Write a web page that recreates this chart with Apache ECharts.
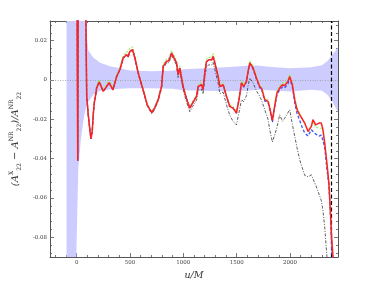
<!DOCTYPE html>
<html><head><meta charset="utf-8">
<script src="https://cdn.jsdelivr.net/npm/echarts@6/dist/echarts.min.js"></script>
<style>html,body{margin:0;padding:0;background:#fff}#c{width:374px;height:289px}</style>
</head><body><div id="c"></div>
<script>
// ---- data ----
const uGrid = [0,10,16,84,94,109,125,134,146,155,165,181,187,212,249,265,305,340,375,405,436,468,483,499,524,546,577,609,640,661,686,705,733,764,796,811,843,864,890,905,936,951,967,998,1023,1042,1061,1089,1124,1139,1170,1185,1201,1217,1239,1267,1279,1295,1326,1342,1373,1404,1435,1466,1498,1522,1545,1566,1592,1607,1623,1654,1685,1716,1735,1763,1794,1810,1835,1856,1878,1903,1929,1950,1981,1997,2022,2044,2066,2091,2114,2138,2169,2200,2215,2241,2272,2294,2309,2325,2346,2365,2378,2390,2403,2410];
const redVals = [0.1,-0.041,0.1,0.045,-0.008,-0.018,-0.026,-0.030,-0.026,-0.018,-0.0117,-0.0066,-0.004,-0.001,-0.0058,-0.006,-0.0014,-0.005,0.0018,0.0052,0.0112,0.0129,0.0118,0.0146,0.0154,0.0112,0.0036,-0.0024,-0.0083,-0.0126,-0.015,-0.0166,-0.014,-0.010,-0.0033,0.0069,0.0095,0.0098,0.0137,0.0129,0.0087,0.0027,0.0061,-0.0033,-0.0083,-0.0115,-0.0143,-0.0115,-0.0083,-0.0033,-0.0024,-0.0049,0.0036,0.0093,0.0103,0.0103,0.012,0.0087,0.0018,-0.0033,-0.0024,-0.0083,-0.0134,-0.0143,-0.0168,-0.010,-0.0015,-0.0033,-0.0007,0.0044,0.0087,0.0061,0.001,-0.0033,-0.0044,-0.010,-0.0109,-0.0143,-0.0207,-0.0134,-0.0066,-0.0041,-0.0024,-0.0029,-0.0007,0.0018,-0.0024,-0.010,-0.0151,-0.0177,-0.0197,-0.0219,-0.0262,-0.0236,-0.0202,-0.0228,-0.0219,-0.0219,-0.0253,-0.032,-0.0422,-0.0524,-0.066,-0.0796,-0.0898,-0.097];
const greenVals = [0.1,-0.041,0.1,0.045,-0.007,-0.017,-0.025,-0.029,-0.025,-0.017,-0.0107,-0.0056,-0.003,0.0003,-0.005,-0.0052,0.0,-0.0042,0.003,0.0064,0.0125,0.014,0.013,0.016,0.0168,0.0122,0.0045,-0.0016,-0.0076,-0.012,-0.0144,-0.016,-0.0133,-0.0092,-0.0024,0.008,0.0108,0.011,0.015,0.0142,0.0098,0.0038,0.0073,-0.0024,-0.0076,-0.0108,-0.0136,-0.0108,-0.0075,-0.0022,-0.0013,-0.004,0.0048,0.0105,0.0115,0.0115,0.0135,0.0098,0.003,-0.0024,-0.0013,-0.0074,-0.0126,-0.0135,-0.016,-0.0091,-0.0004,-0.0022,0.0004,0.0055,0.0098,0.0072,0.002,-0.0024,-0.0035,-0.009,-0.0099,-0.0134,-0.0198,-0.0125,-0.0055,-0.003,-0.0013,-0.0019,0.0004,0.003,-0.0015,-0.009,-0.0142,-0.0168,-0.0195,-0.022,-0.026,-0.0236,-0.0215,-0.024,-0.0245,-0.0245,-0.026,-0.033,-0.044,-0.054,-0.068,-0.083,-0.095,-0.102];
const blueVals = [0.1,-0.041,0.1,0.045,-0.008,-0.018,-0.026,-0.030,-0.026,-0.018,-0.0117,-0.0066,-0.004,-0.001,-0.0058,-0.006,-0.0014,-0.005,0.0018,0.0052,0.0112,0.0129,0.0118,0.0146,0.0154,0.0112,0.0036,-0.0024,-0.0083,-0.0126,-0.015,-0.0166,-0.014,-0.010,-0.0033,0.0069,0.0095,0.0098,0.0137,0.0129,0.0087,0.0027,0.0061,-0.0033,-0.0083,-0.0115,-0.0143,-0.0115,-0.0083,-0.0033,-0.0024,-0.0049,0.0036,0.0093,0.0103,0.0103,0.012,0.0087,0.0018,-0.0033,-0.0024,-0.0083,-0.0134,-0.0143,-0.0168,-0.010,-0.0017,-0.0036,-0.001,0.004,0.0083,0.0056,0.0005,-0.0038,-0.005,-0.0106,-0.0115,-0.0148,-0.0215,-0.014,-0.0075,-0.005,-0.0035,-0.004,-0.002,0.001,-0.0035,-0.0115,-0.017,-0.0205,-0.024,-0.027,-0.0285,-0.0253,-0.026,-0.0275,-0.0285,-0.028,-0.0278,-0.034,-0.045,-0.054,-0.067,-0.085,-0.1,-0.107];
const blackVals = [0.1,-0.041,0.1,0.045,-0.008,-0.018,-0.026,-0.030,-0.026,-0.018,-0.0117,-0.0066,-0.004,-0.001,-0.0058,-0.006,-0.0014,-0.005,0.0018,0.0052,0.011,0.0127,0.0116,0.0143,0.015,0.0108,0.0032,-0.0028,-0.0088,-0.0131,-0.0156,-0.0173,-0.0148,-0.0108,-0.0042,0.006,0.0086,0.0088,0.0126,0.0118,0.0075,0.0013,0.0047,-0.0048,-0.0099,-0.0132,-0.0161,-0.0133,-0.0102,-0.0054,-0.0046,-0.0072,0.0012,0.0068,0.0077,0.0076,0.0089,0.0055,-0.0016,-0.0069,-0.0062,-0.0125,-0.0178,-0.021,-0.0228,-0.0165,-0.010,-0.011,-0.008,-0.003,0.001,-0.0015,-0.0055,-0.0083,-0.0105,-0.0151,-0.020,-0.0253,-0.0315,-0.028,-0.024,-0.0177,-0.021,-0.0195,-0.0166,-0.0151,-0.0225,-0.0285,-0.0345,-0.0406,-0.0445,-0.0485,-0.0492,-0.0482,-0.049,-0.0535,-0.058,-0.0614,-0.0665,-0.0745,-0.0898,-0.105,-0.12,-0.13,-0.14,-0.15];
const bandU    = [-95,-6,15,40,62,78,94,110,155,220,312,405,500,700,900,1000,1200,1400,1600,1700,1800,2000,2200,2300,2350,2400,2450];
const bandHigh = [0.2,0.2,0.2,0.2,0.2,0.03,0.0215,0.015,0.0114,0.0088,0.007,0.006,0.0048,0.0045,0.0047,0.0055,0.006,0.0065,0.0072,0.0074,0.0068,0.006,0.0065,0.0075,0.0095,0.013,0.0165];
const bandLow  = [-0.2,-0.095,-0.045,-0.03,-0.021,-0.016,-0.013,-0.011,-0.0075,-0.0055,-0.0048,-0.0044,-0.0042,-0.0042,-0.0045,-0.0052,-0.0055,-0.0057,-0.0055,-0.005,-0.0052,-0.0058,-0.005,-0.0055,-0.0075,-0.011,-0.0165];
const mergerU = 2388;
const xTicks = [0,500,1000,1500,2000];
const yTicks = [-0.08,-0.06,-0.04,-0.02,0,0.02];
const xRange = [-250,2450];
const yRange = [-0.09,0.03];

// ---- chart ----
const xMinor = [], yMinor = [];
for (let v = -200; v <= 2400; v += 100) if (v % 500 !== 0) xMinor.push(v);
for (let k = -22; k <= 7; k++) { const v = +(k*0.004).toFixed(3); if (Math.abs(Math.round(v/0.02)*0.02 - v) > 1e-9) yMinor.push(v); }

const pair = (xs, ys) => xs.map((x,i) => [x, ys[i]]);
const axC = '#555';
const lblStyle = {fontSize:5.5, color:'#444', fontFamily:'DejaVu Serif'};
function xAx(pos, major, labels) {
  return {type:'value', min:xRange[0], max:xRange[1], position:pos, splitLine:{show:false},
    axisLine:{show:major, onZero:false, lineStyle:{color:axC, width:1}},
    axisTick:{show:true, inside:true, length: major?4:2, customValues: major?xTicks:xMinor, lineStyle:{color:axC, width:0.8}},
    axisLabel:{show:labels, customValues:xTicks, margin:3, formatter:v=>String(v), ...lblStyle}};
}
function yAx(pos, major, labels) {
  return {type:'value', min:yRange[0], max:yRange[1], position:pos, splitLine:{show:false},
    axisLine:{show:major, onZero:false, lineStyle:{color:axC, width:1}},
    axisTick:{show:true, inside:true, length: major?4:2, customValues: major?yTicks:yMinor, lineStyle:{color:axC, width:0.8}},
    axisLabel:{show:labels, customValues:yTicks, margin:3, formatter:v=> v===0?'0':v.toFixed(2), ...lblStyle}};
}
const xs = [xAx('bottom',true,true), xAx('bottom',false,false), xAx('top',true,false), xAx('top',false,false)];
xs[0].name = 'u/M'; xs[0].nameLocation='middle'; xs[0].nameGap = 7;
xs[0].nameTextStyle = {fontStyle:'italic', fontSize:9.5, fontFamily:'DejaVu Serif', color:'#333'};
const ys = [yAx('left',true,true), yAx('left',false,false), yAx('right',true,false), yAx('right',false,false)];
ys[0].name = '{t|(A}{sup|X}{sub|22}{t| − A}{sup|NR}{sub|22}{t|)/A}{sup|NR}{sub|22}';
ys[0].nameLocation='middle'; ys[0].nameGap = 16; ys[0].nameRotate = 90;
ys[0].nameTextStyle = {fontFamily:'DejaVu Serif', color:'#333', rich:{
  t:{fontSize:10, fontStyle:'italic', fontFamily:'DejaVu Serif', color:'#333', lineHeight:14},
  sup:{fontSize:6, fontFamily:'DejaVu Serif', color:'#333', verticalAlign:'top', lineHeight:14, padding:[0,0,4,0]},
  sub:{fontSize:6, fontFamily:'DejaVu Serif', color:'#333', verticalAlign:'bottom', lineHeight:14, padding:[2,0,0,0]}
}};

const line = (name, vals, color, width, type, z) => ({
  name, type:'line', data: pair(uGrid, vals), showSymbol:false, symbol:'none', z,
  lineStyle:{color, width, type}, clip:true, silent:true
});

const bandData = bandU.map((u,i)=>[u, bandLow[i], bandHigh[i]]);
const option = {
  animation:false, backgroundColor:'#fff',
  grid:{left:50, right:36, top:21, bottom:32},
  xAxis: xs, yAxis: ys,
  series:[
    {type:'custom', data:[0], z:1, silent:true,
     renderItem:(params, api) => {
       const top = bandData.map(d => api.coord([d[0], d[2]]));
       const bot = bandData.slice().reverse().map(d => api.coord([d[0], d[1]]));
       const cs = params.coordSys;
       return {type:'polygon', shape:{points: top.concat(bot)}, style:{fill:'#ccccff'},
         clipPath:{type:'rect', shape:{x:cs.x, y:cs.y, width:cs.width, height:cs.height}}};
     }},
    {type:'line', data:[], z:2, markLine:{silent:true, symbol:'none', label:{show:false},
      data:[{yAxis:0}], lineStyle:{color:'#999', width:0.8, type:[1,1.5]}}},
    line('black', blackVals, '#333', 0.8, [3,1.5,1,1.5], 3),
    line('green', greenVals, '#99ee55', 1.1, [2,1.5], 4),
    line('blue', blueVals, '#3355ff', 1.3, [3,2], 5),
    line('red', redVals, '#ff2222', 1.5, 'solid', 6),
    {type:'line', data:[], z:7, markLine:{silent:true, symbol:'none', label:{show:false},
      data:[{xAxis:mergerU}], lineStyle:{color:'#000', width:1.2, type:[4,2.5]}}}
  ]
};
echarts.init(document.getElementById('c'), null, {renderer:'canvas'}).setOption(option);
</script></body></html>
